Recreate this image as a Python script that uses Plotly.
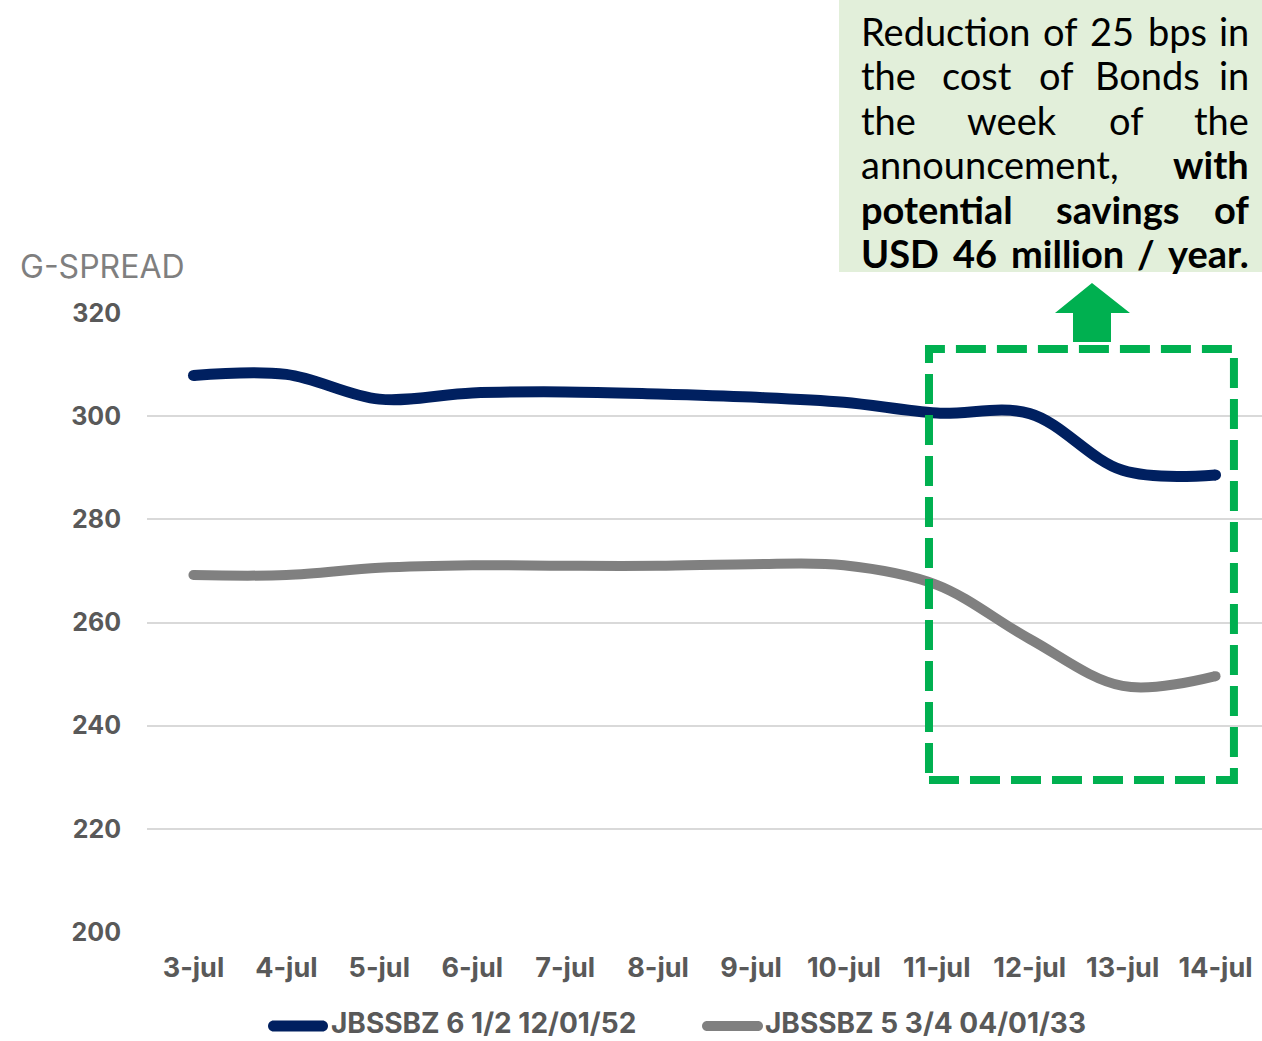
import plotly.graph_objects as go

# --- data -------------------------------------------------------------
dates = ["3-jul", "4-jul", "5-jul", "6-jul", "7-jul", "8-jul",
         "9-jul", "10-jul", "11-jul", "12-jul", "13-jul", "14-jul"]
bond_2052 = [307.9, 308.1, 303.3, 304.5, 304.7, 304.3,
             303.7, 302.7, 300.6, 300.5, 289.5, 288.6]
bond_2033 = [269.2, 269.2, 270.6, 271.1, 271.0, 271.0,
             271.3, 271.1, 267.3, 256.8, 247.7, 249.6]
series_names = ["JBSSBZ 6 1/2 12/01/52", "JBSSBZ 5 3/4 04/01/33"]
y_ticks = [200, 220, 240, 260, 280, 300, 320]
axis_title = "G-SPREAD"

# callout text, one entry per justified line: (word, bold)
callout_lines = [
    [("Reduction", 0), ("of", 0), ("25", 0), ("bps", 0), ("in", 0)],
    [("the", 0), ("cost", 0), ("of", 0), ("Bonds", 0), ("in", 0)],
    [("the", 0), ("week", 0), ("of", 0), ("the", 0)],
    [("announcement,", 0), ("with", 1)],
    [("potential", 1), ("savings", 1), ("of", 1)],
    [("USD", 1), ("46", 1), ("million", 1), ("/", 1), ("year.", 1)],
]

# --- styling ------------------------------------------------------------
NAVY = "#002060"
GREY = "#808080"
GREEN = "#00B050"
TEXT_GREY = "#595959"
W, H = 1262, 1041
L, R, T, B = 147, 0, 313, 109
PLOT_W = W - L - R
PLOT_H = H - T - B


def xp(px):
    """page pixel x -> paper x"""
    return (px - L) / PLOT_W


def yp(py):
    """page pixel y -> paper y"""
    return (H - B - py) / PLOT_H


fig = go.Figure()

for vals, color, width in [(bond_2052, NAVY, 11), (bond_2033, GREY, 10)]:
    fig.add_trace(go.Scatter(
        x=dates, y=vals, mode="lines",
        line=dict(color=color, width=width, shape="spline", smoothing=1),
        showlegend=False, hoverinfo="skip", cliponaxis=False,
    ))
    # round end caps
    fig.add_trace(go.Scatter(
        x=[dates[0], dates[-1]], y=[vals[0], vals[-1]], mode="markers",
        marker=dict(color=color, size=width, line=dict(width=0)),
        showlegend=False, hoverinfo="skip", cliponaxis=False,
    ))

shapes = []

# callout background
shapes.append(dict(type="rect", xref="paper", yref="paper",
                   x0=xp(839), x1=xp(1262), y0=yp(272), y1=yp(0),
                   fillcolor="#E2EFDA", line=dict(width=0), layer="below"))

# dashed highlight box around the last days
shapes.append(dict(type="rect", xref="x", yref="y",
                   x0=7.916, x1=11.198, y0=229.46, y1=313.02,
                   line=dict(color=GREEN, width=8, dash="30px,11px"),
                   fillcolor="rgba(0,0,0,0)"))

# upward arrow pointing to the callout
arrow_pts = [(1092, 283), (1130, 313), (1111, 313), (1111, 342),
             (1073, 342), (1073, 313), (1055, 313)]
path = "M " + " L ".join(f"{xp(x):.5f},{yp(y):.5f}" for x, y in arrow_pts) + " Z"
shapes.append(dict(type="path", xref="paper", yref="paper", path=path,
                   fillcolor=GREEN, line=dict(width=0)))


def pill(x0, x1, yc, r, color):
    k = 0.5523 * r
    pts = (f"M {xp(x0 + r)},{yp(yc - r)} L {xp(x1 - r)},{yp(yc - r)} "
           f"C {xp(x1 - r + k)},{yp(yc - r)} {xp(x1)},{yp(yc - k)} {xp(x1)},{yp(yc)} "
           f"C {xp(x1)},{yp(yc + k)} {xp(x1 - r + k)},{yp(yc + r)} {xp(x1 - r)},{yp(yc + r)} "
           f"L {xp(x0 + r)},{yp(yc + r)} "
           f"C {xp(x0 + r - k)},{yp(yc + r)} {xp(x0)},{yp(yc + k)} {xp(x0)},{yp(yc)} "
           f"C {xp(x0)},{yp(yc - k)} {xp(x0 + r - k)},{yp(yc - r)} {xp(x0 + r)},{yp(yc - r)} Z")
    return dict(type="path", xref="paper", yref="paper", path=pts,
                fillcolor=color, line=dict(width=0))


# legend swatches
shapes.append(pill(268, 328, 1026, 5.5, NAVY))
shapes.append(pill(702, 763, 1026, 5, GREY))

annotations = []

# legend labels
for x_left, name in [(330, series_names[0]), (764, series_names[1])]:
    annotations.append(dict(
        xref="paper", yref="paper", x=xp(x_left), y=yp(1023),
        xanchor="left", yanchor="middle", showarrow=False, text=name,
        borderpad=0,
        font=dict(family="Inter", size=28, color=TEXT_GREY, weight="bold")))

# axis title
annotations.append(dict(
    xref="paper", yref="paper", x=xp(18), y=yp(266),
    xanchor="left", yanchor="middle", showarrow=False, text=axis_title,
    font=dict(family="Inter", size=32, color="#7F7F7F")))

# callout words, justified between the left and right text margins
TEXT_LEFT, TEXT_RIGHT = 860, 1250
word_centers = [
    [None, 1060, 1112, 1177, None],
    [None, 976.5, 1056, 1147.5, None],
    [None, 1012, 1126, None],
    [None, None],
    [None, 1117, None],
    [None, 975, 1067, 1145.5, None],
]
FS = 38
for i, (line, centers) in enumerate(zip(callout_lines, word_centers)):
    baseline = 45 + 44.5 * i
    for j, ((word, bold), cx) in enumerate(zip(line, centers)):
        if j == 0:
            x, anchor = TEXT_LEFT, "left"
        elif j == len(line) - 1:
            x, anchor = TEXT_RIGHT, "right"
        else:
            x, anchor = cx, "center"
        annotations.append(dict(
            xref="paper", yref="paper", x=xp(x), y=yp(baseline - 0.38 * FS),
            xanchor=anchor, yanchor="middle", showarrow=False, text=word,
            borderpad=0,
            font=dict(family="Lato", size=FS, color="#000000",
                      weight="bold" if bold else "normal")))

fig.update_layout(
    width=W, height=H,
    margin=dict(l=L, r=R, t=T, b=B, pad=0),
    paper_bgcolor="white", plot_bgcolor="white",
    showlegend=False,
    shapes=shapes, annotations=annotations,
    xaxis=dict(
        type="category", range=[-0.5, 11.5], showgrid=False, zeroline=False,
        showline=False, ticks="outside", ticklen=12, tickcolor="rgba(0,0,0,0)",
        tickfont=dict(family="Inter", size=27, color=TEXT_GREY, weight="bold"),
        fixedrange=True,
    ),
    yaxis=dict(
        range=[200, 320], tickvals=y_ticks, showgrid=True, gridcolor="#D9D9D9",
        gridwidth=2, zeroline=False, showline=False, ticks="outside",
        ticklen=20, tickcolor="rgba(0,0,0,0)",
        tickfont=dict(family="Inter", size=25, color=TEXT_GREY, weight="bold"),
        fixedrange=True,
    ),
)

fig.write_html("out.html", config={"displayModeBar": False})
